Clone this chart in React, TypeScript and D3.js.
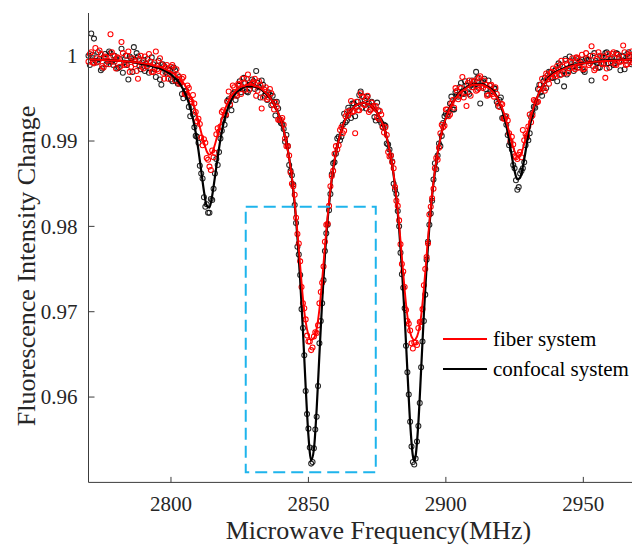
import React from 'react';
import * as d3 from 'd3';

const W = 632;
const H = 545;

const xTicks = [2800, 2850, 2900, 2950];
const yTicks = [0.96, 0.97, 0.98, 0.99, 1];
const yTickLabels = ['0.96', '0.97', '0.98', '0.99', '1'];
const xDomain = [2770, 2970];
const yDomain = [0.95, 1.005];

// fitted curves
const fitFreq = [
  2770, 2775, 2780, 2785, 2790, 2792, 2794, 2796, 2798, 2800,
  2801, 2802, 2803, 2804, 2805, 2806, 2807, 2808, 2809, 2810,
  2811, 2812, 2813, 2814, 2815, 2816, 2817, 2818, 2819, 2820,
  2821, 2822, 2823, 2824, 2825, 2826, 2827, 2828, 2829, 2830,
  2831, 2832, 2833, 2834, 2835, 2836, 2837, 2838, 2839, 2840,
  2841, 2842, 2843, 2844, 2845, 2846, 2847, 2848, 2849, 2850,
  2851, 2852, 2853, 2854, 2855, 2856, 2857, 2858, 2859, 2860,
  2861, 2862, 2863, 2864, 2865, 2866, 2867, 2868, 2869, 2870,
  2871, 2872, 2873, 2874, 2875, 2876, 2877, 2878, 2879, 2880,
  2881, 2882, 2883, 2884, 2885, 2886, 2887, 2888, 2888.5, 2889, 2890,
  2891, 2892, 2893, 2894, 2895, 2896, 2897, 2898, 2899, 2900,
  2901, 2902, 2903, 2904, 2905, 2906, 2907, 2908, 2909, 2910,
  2911, 2912, 2913, 2914, 2915, 2916, 2917, 2918, 2919, 2920,
  2921, 2922, 2923, 2924, 2925, 2926, 2927, 2928, 2929, 2930,
  2931, 2932, 2933, 2934, 2935, 2936, 2937, 2938, 2939, 2940,
  2942, 2944, 2946, 2948, 2950, 2955, 2960, 2965, 2970,
];

const confocalFit = [
  0.9996, 0.9995, 0.9994, 0.9993, 0.9990, 0.9989, 0.9987, 0.9985, 0.9982, 0.9978,
  0.9975, 0.9972, 0.9968, 0.9963, 0.9957, 0.9949, 0.9939, 0.9926, 0.9910, 0.9889,
  0.9865, 0.9841, 0.9824, 0.9822, 0.9836, 0.9858, 0.9881, 0.9902, 0.9919, 0.9932,
  0.9941, 0.9948, 0.9954, 0.9958, 0.9960, 0.9962, 0.9964, 0.9964, 0.9964, 0.9964,
  0.9963, 0.9962, 0.9960, 0.9957, 0.9954, 0.9951, 0.9946, 0.9940, 0.9933, 0.9924,
  0.9912, 0.9898, 0.9880, 0.9856, 0.9826, 0.9787, 0.9737, 0.9678, 0.9612, 0.9555,
  0.9526, 0.9539, 0.9586, 0.9650, 0.9712, 0.9766, 0.9808, 0.9841, 0.9867, 0.9886,
  0.9901, 0.9913, 0.9922, 0.9929, 0.9934, 0.9938, 0.9941, 0.9943, 0.9944, 0.9945,
  0.9944, 0.9943, 0.9941, 0.9937, 0.9933, 0.9927, 0.9920, 0.9910, 0.9897, 0.9881,
  0.9860, 0.9832, 0.9797, 0.9751, 0.9695, 0.9631, 0.9570, 0.9531, 0.9525, 0.9531, 0.9570,
  0.9632, 0.9697, 0.9754, 0.9800, 0.9836, 0.9864, 0.9886, 0.9903, 0.9917, 0.9927,
  0.9936, 0.9943, 0.9948, 0.9953, 0.9957, 0.9960, 0.9962, 0.9964, 0.9965, 0.9966,
  0.9967, 0.9967, 0.9967, 0.9966, 0.9964, 0.9962, 0.9959, 0.9955, 0.9949, 0.9941,
  0.9931, 0.9918, 0.9901, 0.9882, 0.9865, 0.9855, 0.9857, 0.9870, 0.9888, 0.9908,
  0.9924, 0.9938, 0.9949, 0.9957, 0.9963, 0.9968, 0.9973, 0.9976, 0.9979, 0.9981,
  0.9984, 0.9987, 0.9989, 0.9990, 0.9991, 0.9993, 0.9995, 0.9995, 0.9996,
];

const fiberFit = [
  0.9996, 0.9995, 0.9994, 0.9993, 0.9991, 0.9990, 0.9988, 0.9987, 0.9984, 0.9981,
  0.9979, 0.9976, 0.9974, 0.9970, 0.9966, 0.9960, 0.9953, 0.9945, 0.9935, 0.9923,
  0.9910, 0.9898, 0.9888, 0.9884, 0.9887, 0.9896, 0.9908, 0.9920, 0.9931, 0.9940,
  0.9947, 0.9953, 0.9957, 0.9960, 0.9963, 0.9964, 0.9965, 0.9966, 0.9966, 0.9965,
  0.9964, 0.9963, 0.9961, 0.9958, 0.9955, 0.9951, 0.9946, 0.9940, 0.9933, 0.9924,
  0.9913, 0.9898, 0.9880, 0.9857, 0.9828, 0.9793, 0.9754, 0.9716, 0.9688, 0.9673,
  0.9667, 0.9669, 0.9680, 0.9703, 0.9737, 0.9776, 0.9812, 0.9843, 0.9867, 0.9886,
  0.9901, 0.9913, 0.9922, 0.9929, 0.9934, 0.9938, 0.9941, 0.9943, 0.9944, 0.9945,
  0.9944, 0.9943, 0.9941, 0.9937, 0.9933, 0.9927, 0.9920, 0.9910, 0.9897, 0.9881,
  0.9861, 0.9834, 0.9802, 0.9764, 0.9726, 0.9695, 0.9676, 0.9668, 0.9667, 0.9668, 0.9676,
  0.9695, 0.9727, 0.9766, 0.9805, 0.9838, 0.9865, 0.9886, 0.9903, 0.9917, 0.9927,
  0.9935, 0.9942, 0.9948, 0.9952, 0.9956, 0.9959, 0.9961, 0.9963, 0.9965, 0.9966,
  0.9966, 0.9966, 0.9966, 0.9965, 0.9963, 0.9961, 0.9958, 0.9954, 0.9949, 0.9942,
  0.9934, 0.9923, 0.9911, 0.9898, 0.9888, 0.9882, 0.9883, 0.9891, 0.9903, 0.9916,
  0.9929, 0.9940, 0.9949, 0.9957, 0.9963, 0.9968, 0.9972, 0.9975, 0.9978, 0.9980,
  0.9983, 0.9986, 0.9988, 0.9990, 0.9991, 0.9993, 0.9994, 0.9995, 0.9996,
];

// measured points: sweep A on whole MHz (2770..2970), sweep B on half MHz (2770.5..2969.5)
const freqA = d3.range(2770, 2970.5, 1);
const freqB = d3.range(2770.5, 2970, 1);

const confocalA = [
  1.0000, 1.0026, 1.0020, 0.9992, 0.9996, 0.9985, 1.0002, 0.9993, 1.0003, 0.9989,
  0.9996, 0.9986, 1.0008, 0.9992, 0.9989, 0.9999, 0.9981, 0.9995, 0.9999, 0.9984,
  0.9995, 0.9990, 0.9980, 0.9998, 0.9984, 0.9988, 0.9972, 0.9990, 0.9981, 0.9984,
  0.9972, 0.9986, 0.9970, 0.9975, 0.9955, 0.9958, 0.9952, 0.9929, 0.9931, 0.9906,
  0.9898, 0.9862, 0.9834, 0.9826, 0.9816, 0.9831, 0.9862, 0.9872, 0.9903, 0.9925,
  0.9930, 0.9949, 0.9936, 0.9957, 0.9953, 0.9970, 0.9961, 0.9968, 0.9957, 0.9966,
  0.9970, 0.9982, 0.9963, 0.9971, 0.9953, 0.9948, 0.9954, 0.9953, 0.9930, 0.9938,
  0.9921, 0.9914, 0.9907, 0.9872, 0.9860, 0.9825, 0.9776, 0.9743, 0.9681, 0.9607,
  0.9563, 0.9522, 0.9540, 0.9577, 0.9663, 0.9710, 0.9771, 0.9802, 0.9838, 0.9874,
  0.9885, 0.9905, 0.9905, 0.9932, 0.9924, 0.9936, 0.9944, 0.9929, 0.9946, 0.9958,
  0.9952, 0.9938, 0.9944, 0.9946, 0.9928, 0.9945, 0.9924, 0.9916, 0.9918, 0.9896,
  0.9883, 0.9850, 0.9838, 0.9800, 0.9744, 0.9704, 0.9629, 0.9571, 0.9524, 0.9528,
  0.9566, 0.9635, 0.9689, 0.9761, 0.9802, 0.9830, 0.9874, 0.9883, 0.9894, 0.9921,
  0.9932, 0.9934, 0.9952, 0.9937, 0.9954, 0.9963, 0.9956, 0.9970, 0.9957, 0.9965,
  0.9963, 0.9981, 0.9962, 0.9969, 0.9973, 0.9955, 0.9965, 0.9958, 0.9961, 0.9941,
  0.9951, 0.9927, 0.9919, 0.9895, 0.9890, 0.9868, 0.9843, 0.9862, 0.9868, 0.9895,
  0.9901, 0.9928, 0.9940, 0.9946, 0.9966, 0.9953, 0.9974, 0.9972, 0.9980, 0.9974,
  0.9984, 0.9991, 0.9978, 0.9964, 0.9978, 0.9999, 0.9987, 0.9995, 0.9986, 0.9993,
  0.9983, 0.9997, 0.9995, 0.9971, 1.0003, 0.9992, 0.9986, 0.9998, 1.0003, 0.9991,
  0.9996, 0.9989, 1.0003, 0.9993, 1.0000, 0.9984, 1.0002, 0.9999, 0.9992, 1.0002,
  0.9994,
];

const confocalB = [
  0.9989, 1.0001, 0.9994, 1.0004, 0.9983, 0.9998, 0.9990, 1.0005, 0.9993, 1.0000,
  0.9985, 0.9996, 0.9980, 1.0000, 0.9972, 0.9997, 1.0010, 1.0003, 0.9988, 0.9992,
  0.9982, 0.9996, 0.9985, 0.9990, 0.9975, 0.9994, 0.9966, 0.9988, 0.9979, 0.9983,
  0.9970, 0.9983, 0.9967, 0.9968, 0.9950, 0.9959, 0.9940, 0.9940, 0.9916, 0.9905,
  0.9871, 0.9856, 0.9823, 0.9816, 0.9832, 0.9844, 0.9879, 0.9887, 0.9912, 0.9919,
  0.9947, 0.9942, 0.9955, 0.9948, 0.9965, 0.9957, 0.9974, 0.9958, 0.9966, 0.9972,
  0.9961, 0.9968, 0.9951, 0.9966, 0.9955, 0.9957, 0.9942, 0.9946, 0.9946, 0.9924,
  0.9920, 0.9899, 0.9894, 0.9865, 0.9849, 0.9804, 0.9767, 0.9703, 0.9649, 0.9580,
  0.9541, 0.9524, 0.9562, 0.9613, 0.9689, 0.9737, 0.9792, 0.9819, 0.9861, 0.9875,
  0.9903, 0.9901, 0.9919, 0.9922, 0.9939, 0.9927, 0.9944, 0.9940, 0.9954, 0.9939,
  0.9948, 0.9952, 0.9937, 0.9941, 0.9924, 0.9936, 0.9921, 0.9919, 0.9897, 0.9890,
  0.9876, 0.9843, 0.9818, 0.9769, 0.9728, 0.9660, 0.9603, 0.9542, 0.9521, 0.9548,
  0.9593, 0.9665, 0.9720, 0.9782, 0.9815, 0.9855, 0.9867, 0.9897, 0.9906, 0.9929,
  0.9930, 0.9944, 0.9937, 0.9957, 0.9952, 0.9968, 0.9955, 0.9965, 0.9955, 0.9971,
  0.9966, 0.9974, 0.9944, 0.9970, 0.9961, 0.9971, 0.9959, 0.9962, 0.9946, 0.9948,
  0.9927, 0.9929, 0.9907, 0.9898, 0.9872, 0.9854, 0.9846, 0.9865, 0.9875, 0.9904,
  0.9909, 0.9933, 0.9939, 0.9961, 0.9957, 0.9970, 0.9962, 0.9981, 0.9974, 0.9982,
  0.9970, 0.9989, 0.9982, 0.9996, 0.9982, 0.9990, 0.9982, 0.9997, 0.9989, 0.9995,
  0.9981, 0.9995, 1.0000, 0.9988, 0.9994, 0.9986, 0.9999, 0.9991, 1.0004, 0.9986,
  0.9997, 0.9991, 1.0002, 0.9983, 0.9999, 0.9994, 1.0004, 0.9990, 0.9999, 0.9992,
];

const fiberA = [
  0.9993, 1.0004, 0.9991, 0.9997, 1.0006, 0.9988, 0.9999, 0.9994, 1.0025, 1.0000,
  0.9985, 0.9997, 1.0016, 0.9989, 1.0000, 0.9981, 0.9997, 0.9990, 0.9973, 1.0000,
  0.9985, 0.9991, 1.0002, 0.9981, 0.9992, 0.9984, 0.9997, 0.9980, 0.9986, 0.9973,
  0.9987, 0.9977, 0.9984, 0.9967, 0.9973, 0.9955, 0.9965, 0.9949, 0.9954, 0.9934,
  0.9926, 0.9904, 0.9902, 0.9880, 0.9870, 0.9889, 0.9886, 0.9915, 0.9917, 0.9936,
  0.9931, 0.9958, 0.9951, 0.9963, 0.9953, 0.9966, 0.9973, 0.9960, 0.9978, 0.9965,
  0.9969, 0.9953, 0.9970, 0.9938, 0.9960, 0.9949, 0.9961, 0.9943, 0.9945, 0.9925,
  0.9925, 0.9919, 0.9894, 0.9883, 0.9850, 0.9837, 0.9791, 0.9759, 0.9710, 0.9691,
  0.9665, 0.9655, 0.9671, 0.9675, 0.9710, 0.9734, 0.9782, 0.9803, 0.9847, 0.9865,
  0.9894, 0.9895, 0.9916, 0.9912, 0.9934, 0.9935, 0.9934, 0.9909, 0.9936, 0.9956,
  0.9943, 0.9950, 0.9934, 0.9945, 0.9938, 0.9928, 0.9935, 0.9917, 0.9916, 0.9887,
  0.9883, 0.9868, 0.9830, 0.9807, 0.9756, 0.9729, 0.9689, 0.9678, 0.9657, 0.9664,
  0.9681, 0.9688, 0.9731, 0.9764, 0.9814, 0.9833, 0.9868, 0.9878, 0.9909, 0.9916,
  0.9937, 0.9929, 0.9944, 0.9939, 0.9959, 0.9953, 0.9975, 0.9957, 0.9968, 0.9953,
  0.9969, 0.9959, 0.9974, 0.9964, 0.9971, 0.9953, 0.9965, 0.9955, 0.9963, 0.9944,
  0.9944, 0.9926, 0.9929, 0.9909, 0.9905, 0.9882, 0.9879, 0.9887, 0.9913, 0.9908,
  0.9917, 0.9922, 0.9948, 0.9945, 0.9960, 0.9973, 0.9959, 0.9977, 0.9974, 0.9985,
  0.9976, 0.9984, 0.9994, 0.9979, 0.9990, 0.9985, 0.9997, 0.9984, 0.9996, 0.9991,
  0.9984, 1.0003, 0.9989, 1.0011, 0.9983, 0.9996, 1.0000, 0.9990, 0.9974, 1.0002,
  0.9992, 1.0004, 0.9989, 0.9998, 0.9994, 1.0004, 0.9990, 1.0001, 0.9992, 1.0007,
  0.9998,
];

const fiberB = [
  1.0002, 0.9992, 1.0009, 0.9993, 1.0002, 0.9986, 0.9998, 0.9990, 1.0004, 0.9993,
  0.9998, 0.9987, 1.0003, 0.9990, 1.0005, 0.9987, 0.9994, 0.9982, 0.9996, 0.9987,
  0.9999, 0.9988, 0.9993, 0.9981, 1.0005, 0.9982, 0.9990, 0.9973, 0.9989, 0.9979,
  0.9989, 0.9971, 0.9977, 0.9968, 0.9975, 0.9955, 0.9962, 0.9946, 0.9944, 0.9923,
  0.9920, 0.9895, 0.9898, 0.9878, 0.9866, 0.9881, 0.9908, 0.9911, 0.9934, 0.9931,
  0.9946, 0.9943, 0.9965, 0.9955, 0.9967, 0.9955, 0.9968, 0.9973, 0.9960, 0.9967,
  0.9973, 0.9959, 0.9966, 0.9951, 0.9963, 0.9951, 0.9956, 0.9937, 0.9940, 0.9925,
  0.9927, 0.9903, 0.9894, 0.9863, 0.9847, 0.9810, 0.9780, 0.9729, 0.9704, 0.9672,
  0.9665, 0.9658, 0.9676, 0.9684, 0.9723, 0.9753, 0.9802, 0.9824, 0.9859, 0.9885,
  0.9890, 0.9913, 0.9909, 0.9929, 0.9930, 0.9947, 0.9935, 0.9946, 0.9936, 0.9952,
  0.9942, 0.9953, 0.9936, 0.9941, 0.9941, 0.9926, 0.9931, 0.9910, 0.9907, 0.9882,
  0.9875, 0.9846, 0.9824, 0.9779, 0.9747, 0.9702, 0.9686, 0.9663, 0.9664, 0.9661,
  0.9688, 0.9703, 0.9750, 0.9780, 0.9823, 0.9844, 0.9880, 0.9892, 0.9919, 0.9918,
  0.9937, 0.9931, 0.9948, 0.9962, 0.9949, 0.9962, 0.9951, 0.9941, 0.9971, 0.9963,
  0.9971, 0.9960, 0.9976, 0.9962, 0.9966, 0.9954, 0.9966, 0.9952, 0.9955, 0.9940,
  0.9943, 0.9926, 0.9924, 0.9900, 0.9896, 0.9881, 0.9884, 0.9881, 0.9901, 0.9906,
  0.9931, 0.9930, 0.9947, 0.9946, 0.9966, 0.9962, 0.9979, 0.9967, 0.9981, 0.9978,
  0.9988, 0.9977, 0.9987, 0.9994, 0.9980, 0.9993, 0.9986, 0.9998, 0.9986, 1.0001,
  0.9985, 0.9996, 0.9991, 1.0000, 0.9985, 1.0004, 0.9991, 0.9999, 0.9985, 0.9997,
  1.0002, 0.9990, 1.0001, 0.9993, 1.0012, 0.9989, 0.9999, 1.0005, 0.9993, 1.0001,
];

// highlighted region (dashed box)
const boxFreq = [2827.2, 2874.5];
const boxValue = [0.9512, 0.9823];

const legendLabels = ['fiber system', 'confocal system'];

const FONT = "'Times New Roman', 'Liberation Serif', serif";
const AXIS = '#3c3c3c';
const TEXT = '#262626';
const RED = '#ff0000';
const BLACK = '#000000';

export default function App() {
  const x = d3.scaleLinear().domain(xDomain).range([88.5, 638.3]);
  const y = d3.scaleLinear().domain(yDomain).range([482.4, 13]);
  const [x0] = x.range();
  const [yb, yt] = y.range();

  const makeLine = (vals: number[]) =>
    d3
      .line<number>()
      .x((_, i) => x(fitFreq[i]))
      .y((d) => y(d))
      .curve(d3.curveMonotoneX)(vals) || '';

  const dots = (vals: number[], freqs: number[], key: string) =>
    vals.map((v, i) => <circle key={key + i} cx={x(freqs[i])} cy={y(v)} r={2.5} />);

  return (
    <svg
      width={W}
      height={H}
      style={{ position: 'absolute', left: 0, top: 0, background: '#fff' }}
      fontFamily={FONT}
    >
      <rect x={0} y={0} width={W} height={H} fill="#fff" />

      {/* scatter */}
      <g fill="none" stroke={BLACK} strokeWidth={1.05} strokeOpacity={0.85}>
        {dots(confocalA, freqA, 'ca')}
        {dots(confocalB, freqB, 'cb')}
      </g>
      <g fill="none" stroke={RED} strokeWidth={1.05}>
        {dots(fiberA, freqA, 'fa')}
        {dots(fiberB, freqB, 'fb')}
      </g>

      {/* fit lines */}
      <path d={makeLine(confocalFit)} fill="none" stroke={BLACK} strokeWidth={2.2} />
      <path d={makeLine(fiberFit)} fill="none" stroke={RED} strokeWidth={1.9} />

      {/* dashed box */}
      <rect
        x={x(boxFreq[0])}
        y={y(boxValue[1])}
        width={x(boxFreq[1]) - x(boxFreq[0])}
        height={y(boxValue[0]) - y(boxValue[1])}
        fill="none"
        stroke="#1eb4ec"
        strokeWidth={2}
        strokeDasharray="12,6"
      />

      {/* axes */}
      <line x1={x0} x2={W} y1={yb} y2={yb} stroke={AXIS} strokeWidth={1} />
      <line x1={x0} x2={x0} y1={yb} y2={yt} stroke={AXIS} strokeWidth={1} />
      {xTicks.map((t) => (
        <g key={'xt' + t}>
          <line x1={x(t)} x2={x(t)} y1={yb} y2={yb - 5.5} stroke={AXIS} strokeWidth={1} />
          <text x={x(t)} y={511} textAnchor="middle" fontSize={21} fill={TEXT}>
            {t}
          </text>
        </g>
      ))}
      {yTicks.map((t, i) => (
        <g key={'yt' + t}>
          <line x1={x0} x2={x0 + 6} y1={y(t)} y2={y(t)} stroke={AXIS} strokeWidth={1} />
          <text x={x0 - 11} y={y(t)} dy="0.34em" textAnchor="end" fontSize={21} fill={TEXT}>
            {yTickLabels[i]}
          </text>
        </g>
      ))}

      {/* axis titles */}
      <text x={378.4} y={539} textAnchor="middle" fontSize={26} fill={TEXT}>
        Microwave Frequency(MHz)
      </text>
      <text
        transform="translate(35,266) rotate(-90)"
        textAnchor="middle"
        fontSize={26}
        fill={TEXT}
      >
        Fluorescence Intensity Change
      </text>

      {/* legend */}
      <line x1={443} x2={487} y1={339} y2={339} stroke={RED} strokeWidth={2} />
      <text x={493} y={346} fontSize={21} fill={BLACK}>
        {legendLabels[0]}
      </text>
      <line x1={443} x2={487} y1={369} y2={369} stroke={BLACK} strokeWidth={2} />
      <text x={493} y={376} fontSize={21} fill={BLACK}>
        {legendLabels[1]}
      </text>
    </svg>
  );
}
